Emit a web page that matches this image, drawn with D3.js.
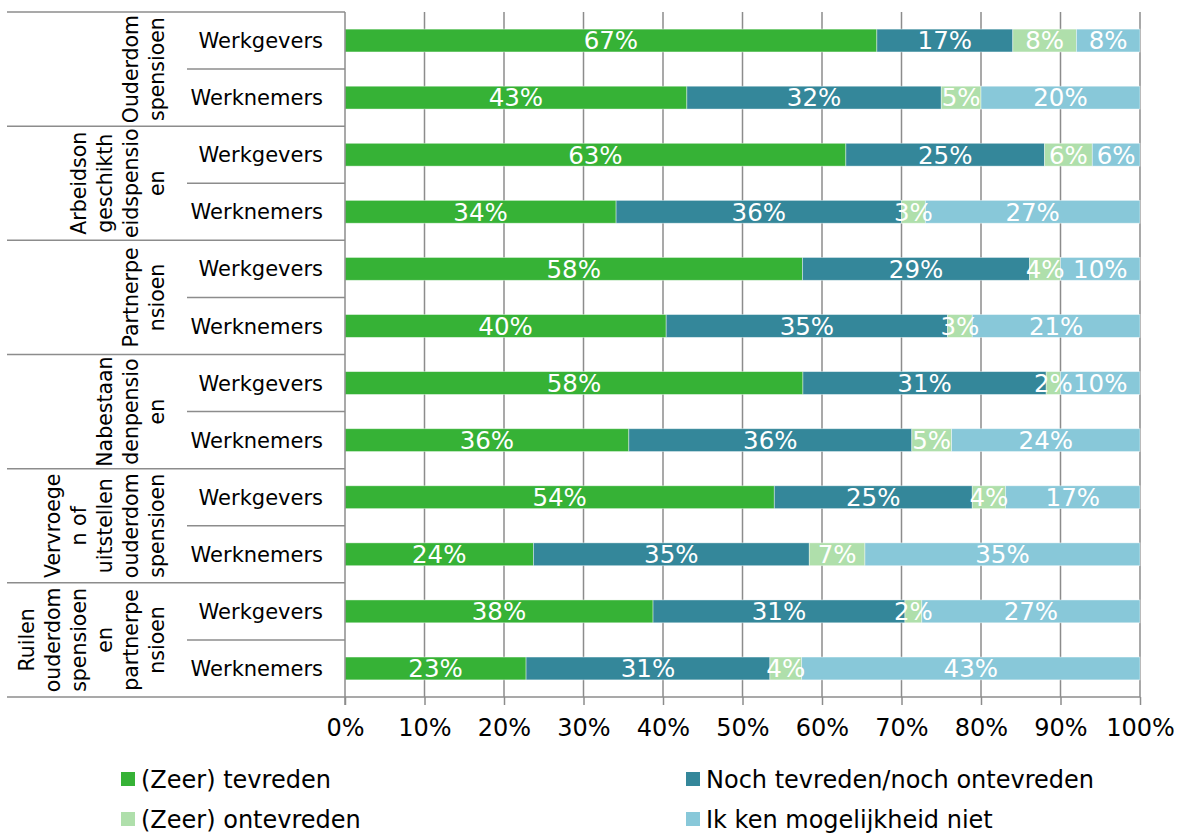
<!DOCTYPE html>
<html>
<head>
<meta charset="utf-8">
<script src="https://cdn.jsdelivr.net/npm/d3@7"></script>
<style>
  html, body { margin: 0; padding: 0; background: #fff; }
  svg { display: block; font-family: "DejaVu Sans", Verdana, sans-serif; }
</style>
</head>
<body>
<svg id="chart" width="1183" height="834"></svg>
<script>
// ---- Data ----
const groupLabels = [
  ["Ouderdom", "spensioen"],
  ["Arbeidson", "geschikth", "eidspensio", "en"],
  ["Partnerpe", "nsioen"],
  ["Nabestaan", "denpensio", "en"],
  ["Vervroege", "n of", "uitstellen", "ouderdom", "spensioen"],
  ["Ruilen", "ouderdom", "spensioen", "en", "partnerpe", "nsioen"]
];
const subLabels = ["Werkgevers", "Werknemers"];
const seriesNames = ["(Zeer) tevreden", "Noch tevreden/noch ontevreden", "(Zeer) ontevreden", "Ik ken mogelijkheid niet"];
const seriesColors = ["#36b236", "#34879a", "#afdfab", "#88c8d9"];

const tevreden   = [66.9, 43.0, 63.0, 34.1, 57.6, 40.4, 57.6, 35.7, 54.0, 23.7, 38.4, 22.8];
const neutraal   = [17.1, 32.0, 25.0, 35.9, 28.6, 35.4, 30.6, 35.6, 24.9, 34.7, 31.4, 30.7];
const ontevreden = [ 8.0,  5.0,  6.0,  3.0,  3.9,  3.1,  1.8,  5.0,  4.2,  7.0,  2.1,  4.0];
const onbekend   = [ 8.0, 20.0,  6.0, 27.0, 10.0, 21.1, 10.0, 23.7, 16.9, 34.6, 27.2, 42.6];
const tickValues = [0, 0.1, 0.2, 0.3, 0.4, 0.5, 0.6, 0.7, 0.8, 0.9, 1.0];

(function () {
// ---- Build rows ----
const keys = ["s0", "s1", "s2", "s3"];
const rows = tevreden.map((v, i) => ({
  id: i,
  s0: v, s1: neutraal[i], s2: ontevreden[i], s3: onbekend[i]
}));

const svg = d3.select("#chart");
const pLeft = 345, pRight = 1140, pTop = 12, pBottom = 697;
const gridColor = "#8c8c8c";

const x = d3.scaleLinear().domain([0, 1]).range([pLeft, pRight]);
const y = d3.scaleBand().domain(rows.map(d => d.id)).range([pTop, pBottom]).paddingInner(0.6).paddingOuter(0.3);
const groupH = (pBottom - pTop) / groupLabels.length;
const color = d3.scaleOrdinal().domain(keys).range(seriesColors);

const stack = d3.stack().keys(keys).offset(d3.stackOffsetExpand);
const stacked = stack(rows);

// gridlines
svg.append("g").selectAll("line").data(tickValues.slice(1)).join("line")
  .attr("x1", d => x(d)).attr("x2", d => x(d))
  .attr("y1", pTop).attr("y2", pBottom)
  .attr("stroke", gridColor).attr("stroke-width", 1.5);

// bars
const layer = svg.append("g").selectAll("g").data(stacked).join("g")
  .attr("fill", d => color(d.key));
layer.selectAll("rect").data(d => d).join("rect")
  .attr("x", d => x(d[0]))
  .attr("width", d => x(d[1]) - x(d[0]))
  .attr("y", d => y(d.data.id))
  .attr("height", y.bandwidth())
  .attr("stroke", "#ffffff").attr("stroke-opacity", 0.5).attr("stroke-width", 0.8);

// data labels
svg.append("g").selectAll("g").data(stacked).join("g")
  .selectAll("text").data(d => d.map(p => ({p, key: d.key}))).join("text")
  .attr("x", d => (x(d.p[0]) + x(d.p[1])) / 2)
  .attr("y", d => y(d.p.data.id) + y.bandwidth() / 2)
  .attr("dy", "0.36em")
  .attr("text-anchor", "middle")
  .attr("fill", "#ffffff")
  .attr("font-size", 24.5)
  .text(d => Math.round(d.p.data[d.key]) + "%");

// x axis
const xAxis = d3.axisBottom(x).tickValues(tickValues).tickFormat(d3.format(".0%")).tickSize(8).tickPadding(14);
const ax = svg.append("g").attr("transform", `translate(0,${pBottom})`).call(xAxis);
ax.select(".domain").remove();
ax.selectAll(".tick line").attr("stroke", gridColor).attr("stroke-width", 1.5);
ax.selectAll(".tick text").attr("font-size", 24).attr("fill", "#000").attr("font-family", "DejaVu Sans, Verdana, sans-serif");

// axis lines
svg.append("line").attr("x1", 7).attr("x2", pRight).attr("y1", pBottom).attr("y2", pBottom)
  .attr("stroke", gridColor).attr("stroke-width", 1.5);
svg.append("line").attr("x1", pLeft).attr("x2", pLeft).attr("y1", pTop).attr("y2", pBottom + 8)
  .attr("stroke", gridColor).attr("stroke-width", 1.5);

// group separators
svg.append("g").selectAll("line").data(d3.range(groupLabels.length)).join("line")
  .attr("x1", 7).attr("x2", pLeft)
  .attr("y1", i => pTop + i * groupH).attr("y2", i => pTop + i * groupH)
  .attr("stroke", gridColor).attr("stroke-width", 1.5);
svg.append("g").selectAll("line").data(d3.range(groupLabels.length)).join("line")
  .attr("x1", 187).attr("x2", pLeft)
  .attr("y1", i => pTop + (i + 0.5) * groupH).attr("y2", i => pTop + (i + 0.5) * groupH)
  .attr("stroke", gridColor).attr("stroke-width", 1.5);

// sub labels
svg.append("g").selectAll("text").data(rows).join("text")
  .attr("x", 323)
  .attr("y", d => y(d.id) + y.bandwidth() / 2)
  .attr("dy", "0.36em")
  .attr("text-anchor", "end")
  .attr("font-size", 21)
  .attr("fill", "#000")
  .text(d => subLabels[d.id % 2]);

// group labels (rotated)
const lineGap = 26, lastBaseline = 164;
groupLabels.forEach((lines, gi) => {
  const cy = pTop + (gi + 0.5) * groupH;
  const n = lines.length;
  lines.forEach((ln, li) => {
    const bx = lastBaseline - (n - 1 - li) * lineGap;
    svg.append("text")
      .attr("transform", `translate(${bx},${cy}) rotate(-90)`)
      .attr("text-anchor", "middle")
      .attr("font-size", 20.5)
      .attr("fill", "#000")
      .text(ln);
  });
});

// legend
const legendPos = [[121, 779], [686, 779], [121, 819], [686, 819]];
const lg = svg.append("g").selectAll("g").data(seriesNames).join("g")
  .attr("transform", (d, i) => `translate(${legendPos[i][0]},${legendPos[i][1]})`);
lg.append("rect").attr("x", 0).attr("y", -7).attr("width", 14).attr("height", 14)
  .attr("fill", (d, i) => seriesColors[i]);
lg.append("text").attr("x", 20).attr("y", 0).attr("dy", "0.36em")
  .attr("font-size", 24).attr("fill", "#000").text(d => d);
})();
</script>
</body>
</html>
